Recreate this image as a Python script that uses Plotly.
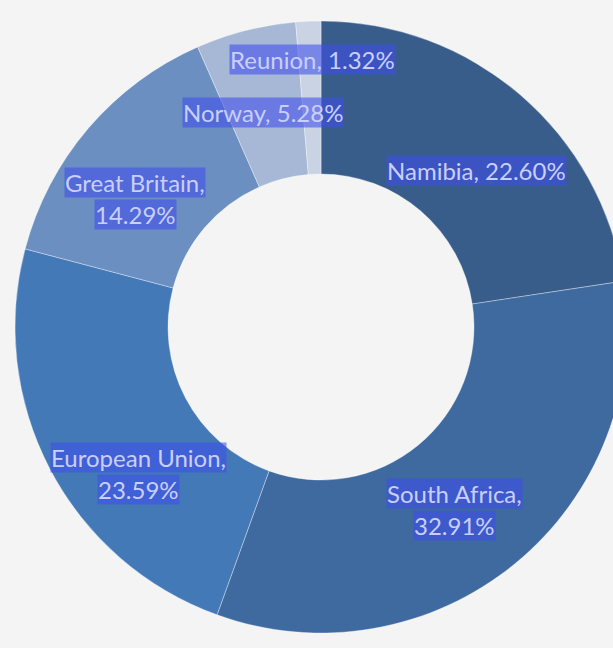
import math
import plotly.graph_objects as go

# ---- data ----
countries = ["Namibia", "South Africa", "European Union", "Great Britain", "Norway", "Reunion"]
shares = [22.60, 32.91, 23.59, 14.29, 5.28, 1.32]

# ---- style ----
colors = ["#385d8b", "#3e6aa0", "#4479b8", "#6c8fc2", "#a6b8d6", "#c9d3e4"]
wrap = [False, True, True, True, False, False]
label_nudge = [(10, 13), (-8, 10), (15, 43), (-16, 17), (-3, 2), (1, -44)]  # px tweaks

W, H = 630, 648
R = 306
cx, cy = 321, 327
dom_x = [(cx - R) / W, (cx + R) / W]
dom_y = [1 - (cy + R) / H, 1 - (cy - R) / H]

fig = go.Figure(go.Pie(
    labels=countries,
    values=shares,
    sort=False,
    direction="clockwise",
    rotation=0,
    hole=0.5,
    marker=dict(colors=colors, line=dict(color="rgba(255,255,255,0.35)", width=1)),
    textinfo="none",
    hoverinfo="label+percent",
    showlegend=False,
    domain=dict(x=dom_x, y=dom_y),
))

total = sum(shares)
cum = 0.0
annotations = []
line_h = 32
for i, (name, v) in enumerate(zip(countries, shares)):
    mid = (cum + v / 2) / total * 2 * math.pi
    cum += v
    r = 0.73 * R
    px = cx + r * math.sin(mid) + label_nudge[i][0]
    py = cy - r * math.cos(mid) + label_nudge[i][1]
    pct = f"{v:.2f}%"
    lines = [f"{name},", pct] if wrap[i] else [f"{name}, {pct}"]
    n = len(lines)
    for j, ln in enumerate(lines):
        annotations.append(dict(
            x=px / W, y=1 - py / H, xref="paper", yref="paper",
            text=ln, showarrow=False,
            yshift=((n - 1) / 2 - j) * line_h,
            font=dict(family="Lato", size=24, color="#c9cfff"),
            bgcolor="rgba(62,78,234,0.58)", borderpad=0,
            xanchor="center", yanchor="middle",
        ))

fig.update_layout(
    width=W, height=H,
    margin=dict(l=0, r=0, t=0, b=0),
    paper_bgcolor="#f4f4f4",
    plot_bgcolor="#f4f4f4",
    annotations=annotations,
)

fig.write_html(
    "out.html",
    config={"displayModeBar": False},
    post_script="document.body.style.margin='0';document.body.style.overflow='hidden';"
                "document.body.style.background='#f4f4f4';",
)
